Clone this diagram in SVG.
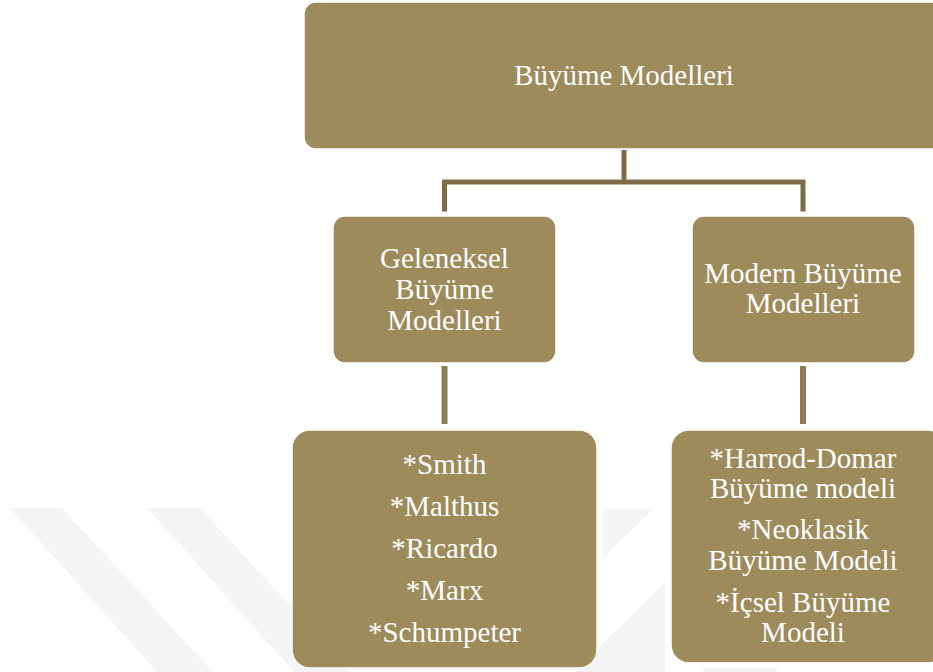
<svg xmlns="http://www.w3.org/2000/svg" width="933" height="672" viewBox="0 0 933 672">
<style>
.box{fill:#9E8B5B;stroke:#ffffff;stroke-width:1.5}
.t{font-family:"Liberation Serif","Times New Roman",serif;font-size:29px;fill:#ffffff;text-anchor:middle}
.c1{stroke:#7F6C46;stroke-width:5;fill:none;stroke-linecap:square}
.c2{stroke:#8E7C52;stroke-width:6;fill:none}
.wm{fill:#F4F4F4}
</style>
<rect width="933" height="672" fill="#ffffff"/>
<g id="watermark">
<polygon class="wm" points="10,508 62,508 213,672 157,672"/>
<polygon class="wm" points="147,508 200,508 351,672 294,672"/>
<polygon class="wm" points="603,509 653,509 603,558"/>
<polygon class="wm" points="665,582 665,672 574,672"/>
<polygon class="wm" points="703,668 777,668 777,672 703,672"/>
</g>
<g id="connectors">
<path class="c1" d="M624,152 V182 M444.5,182 H803 M444.5,182 V209 M803,182 V209"/>
<path class="c2" d="M444.5,366 V424 M803,366 V424"/>
</g>
<g id="n-root">
<rect class="box" x="304" y="2" width="660" height="147" rx="12"/>
<text class="t" x="624" y="85">Büyüme Modelleri</text>
</g>
<g id="n-geleneksel">
<rect class="box" x="333" y="216" width="223" height="147" rx="12"/>
<text class="t" x="444.5" y="268">Geleneksel</text>
<text class="t" x="444.5" y="299">Büyüme</text>
<text class="t" x="444.5" y="330">Modelleri</text>
</g>
<g id="n-modern">
<rect class="box" x="692" y="216" width="223" height="147" rx="12"/>
<text class="t" x="803" y="283">Modern Büyüme</text>
<text class="t" x="803" y="313">Modelleri</text>
</g>
<g id="n-klasik-list">
<rect class="box" x="292" y="430" width="305" height="238" rx="18"/>
<text class="t" x="444.5" y="474">*Smith</text>
<text class="t" x="444.5" y="516">*Malthus</text>
<text class="t" x="444.5" y="558">*Ricardo</text>
<text class="t" x="444.5" y="600">*Marx</text>
<text class="t" x="444.5" y="642">*Schumpeter</text>
</g>
<g id="n-modern-list">
<rect class="box" x="671" y="430" width="275" height="233" rx="18"/>
<text class="t" x="803" y="468">*Harrod-Domar</text>
<text class="t" x="803" y="498">Büyüme modeli</text>
<text class="t" x="803" y="539">*Neoklasik</text>
<text class="t" x="803" y="570">Büyüme Modeli</text>
<text class="t" x="803" y="612">*İçsel Büyüme</text>
<text class="t" x="803" y="642">Modeli</text>
</g>
</svg>
